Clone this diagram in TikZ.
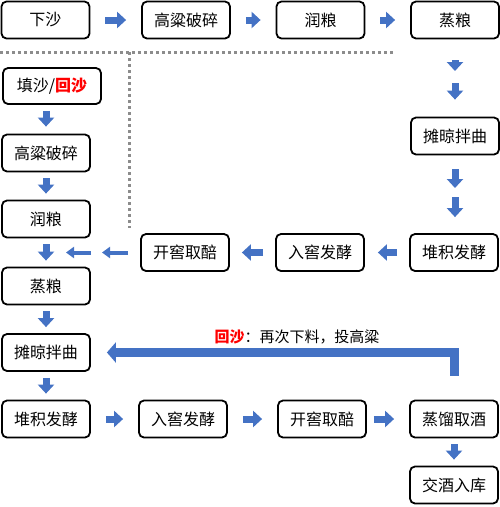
\documentclass[tikz,border=0pt]{standalone}
\usepackage{fontspec}
\setmainfont{Noto Sans CJK SC}
\usetikzlibrary{arrows.meta}
\definecolor{flowblue}{RGB}{68,114,196}
\tikzset{
  box/.style={draw, line width=1.8pt, rounded corners=5pt, minimum width=88pt,
    minimum height=37pt, inner sep=0pt, font=\fontsize{16}{19}\selectfont},
  flow/.style={flowblue, line width=7pt, -{Triangle[length=9pt,width=16pt]}},
  thinflow/.style={flowblue, line width=4pt, -{Triangle[length=8pt,width=11pt]}},
  bigflow/.style={flowblue, line width=9pt, line join=miter, -{Triangle[length=9pt,width=20pt]}},
  border/.style={black!45, line width=3pt, dash pattern=on 3pt off 3pt}
}
\begin{document}
\begin{tikzpicture}[x=1pt, y=-1pt]
        \useasboundingbox (0,0) rectangle (500,507);
        \node [box] (xs) at (45.5, 20) {下沙};
        \node [box] (gs1) at (186, 20) {高粱破碎};
        \node [box] (rl1) at (320.5, 20) {润粮};
        \node [box] (zl1) at (455, 20) {蒸粮};
        \node [box] (tl1) at (455, 136) {摊晾拌曲};
        \node [box] (dj1) at (454, 252.5) {堆积发酵};
        \node [box] (rj1) at (320, 252.5) {入窖发酵};
        \node [box] (kj1) at (185, 252.5) {开窖取醅};
        \node [box, minimum width=98pt, minimum height=36pt] (ts) at (52, 86) {填沙/\textcolor{red}{\textbf{回沙}}};
        \node [box] (gs2) at (46, 153) {高粱破碎};
        \node [box] (rl2) at (46, 219) {润粮};
        \node [box] (zl2) at (46, 286) {蒸粮};
        \node [box] (tl2) at (46, 352.5) {摊晾拌曲};
        \node [box] (dj2) at (46, 419) {堆积发酵};
        \node [box] (rj2) at (183, 419) {入窖发酵};
        \node [box] (kj2) at (322, 419) {开窖取醅};
        \node [box] (zq) at (454, 419) {蒸馏取酒};
        \node [box] (jj) at (454, 485) {交酒入库};
        \node [font=\fontsize{15}{17}\selectfont] (hs) at (297, 337) {\textcolor{red}{\textbf{回沙}}：再次下料，投高粱};
        \coordinate (m1) at (455, 77);
        \coordinate (m2) at (455, 193);
        \coordinate (r1) at (102, 252.5);
        \coordinate (r2) at (91, 252.5);
        \coordinate (r3) at (66, 252.5);
        \coordinate (d0) at (0, 52);
        \coordinate (d1) at (395, 52);
        \coordinate (d2) at (129, 52);
        \coordinate (d3) at (129, 228);
        \draw[border] (d0) -- (d1) (d2) -- (d3);
        \foreach \a/\b in {xs/gs1, gs1/rl1, rl1/zl1, dj2/rj2, rj2/kj2}
          \draw[flow, shorten <=15pt, shorten >=15pt] (\a) -- (\b);
        \draw[flow, shorten <=7pt, shorten >=15pt] (kj2) -- (zq);
        \draw[flow, shorten <=12pt, shorten >=13pt] (dj1) -- (rj1);
        \draw[flow, shorten <=12pt, shorten >=12pt] (rj1) -- (kj1);
        \draw[flow, shorten <=21pt, shorten >=6pt] (zl1) -- (m1);
        \draw[flow, shorten <=6pt, shorten >=17pt] (m1) -- (tl1);
        \draw[flow, shorten <=14pt, shorten >=5pt] (tl1) -- (m2);
        \draw[flow, shorten <=4pt, shorten >=16pt] (m2) -- (tl1 |- dj1.north);
        \draw[flow, shorten <=6pt, shorten >=7pt] (ts.south -| gs2) -- (gs2.north);
        \foreach \a/\b in {gs2/rl2, rl2/zl2, zl2/tl2, tl2/dj2, zq/jj}
          \draw[flow, shorten <=6pt, shorten >=6pt] (\a) -- (\b);
        \draw[thinflow, shorten <=12pt] (kj1.west) -- (r1);
        \draw[thinflow] (r2) -- (r3);
        \draw[bigflow] ([yshift=24pt]zq.north) |- ([xshift=16pt]tl2.east);
      \end{tikzpicture}
\end{document}
